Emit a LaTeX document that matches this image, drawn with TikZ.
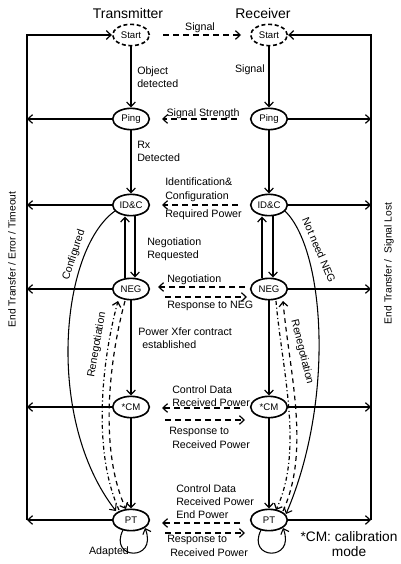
\documentclass[tikz,border=0pt]{standalone}
\usepackage{fontspec}
\setmainfont{Liberation Sans}
\usetikzlibrary{shapes.geometric,arrows.meta,calc}
\begin{document}
\begin{tikzpicture}[x=0.75pt,y=-0.75pt,
  st/.style={ellipse,draw,line width=1.2pt,minimum width=27.5pt,minimum height=16pt,inner sep=0pt,font=\fontsize{7.2}{8}\selectfont},
  ststart/.style={st,dash pattern=on 3pt off 2pt},
  conn/.style={line width=0.9pt,-{Straight Barb[length=3.5pt,width=6.5pt]}},
  msg/.style={conn,dash pattern=on 4.5pt off 3pt},
  renegd/.style={conn,dash pattern=on 3.5pt off 3pt},
  renegdd/.style={conn,dash pattern=on 3pt off 2pt on 0.8pt off 2pt},
  thin/.style={conn,line width=0.8pt},
  lbl/.style={font=\fontsize{8}{9.8}\selectfont,inner sep=0pt,align=left},
  ttl/.style={font=\fontsize{10.5}{12}\selectfont,inner sep=0pt},
  side/.style={font=\fontsize{7.7}{9}\selectfont,inner sep=0pt,rotate=90}]
\path[fill=white] (0,0) rectangle (400,564);
\useasboundingbox (0,0) rectangle (400,564);

% titles
\node[ttl] (tT) at (128,13) {Transmitter};
\node[ttl] (tR) at (263,13) {Receiver};

% transmitter states
\node[ststart] (ts) at (131,35) {Start};
\node[st] (tp) at (131,119) {Ping};
\node[st] (ti) at (131,205) {ID\&C};
\node[st] (tn) at (131,289) {NEG};
\node[st] (tc) at (131,407) {*CM};
\node[st] (tt) at (131,520) {PT};
% receiver states
\node[ststart] (rs) at (269,35) {Start};
\node[st] (rp) at (269,119) {Ping};
\node[st] (ri) at (269,205) {ID\&C};
\node[st] (rn) at (269,289) {NEG};
\node[st] (rc) at (269,407) {*CM};
\node[st] (rt) at (269,520) {PT};

% border lines
\coordinate (Ltop) at (27,35);
\coordinate (Lbot) at (27,520);
\coordinate (Rtop) at (371,35);
\coordinate (Rbot) at (371,520);
\draw[conn] (Lbot) -- (Ltop) -- (ts.west);
\draw[conn] (Rbot) -- (Rtop) -- (rs.east);
\foreach \n in {tp,ti,tn,tc,tt}{\draw[conn] (\n.west) -- (\n.west -| Ltop);}
\foreach \n in {rp,ri,rn,rc,rt}{\draw[conn] (\n.east) -- (\n.east -| Rtop);}

% vertical transitions
\draw[conn] (ts) -- (tp);
\draw[conn] (tp) -- (ti);
\draw[conn] ($(ti.south)+(4,0)$) -- ($(tn.north)+(4,0)$);
\draw[conn] ($(tn.north)+(-6,0)$) -- ($(ti.south)+(-6,0)$);
\draw[conn] (tn) -- (tc);
\draw[conn] (tc) -- (tt);
\draw[conn] (rs) -- (rp);
\draw[conn] (rp) -- (ri);
\draw[conn] ($(ri.south)+(4,0)$) -- ($(rn.north)+(4,0)$);
\draw[conn] ($(rn.north)+(-7,0)$) -- ($(ri.south)+(-7,0)$);
\draw[conn] (rn) -- (rc);
\draw[conn] (rc) -- (rt);

% messages
\draw[msg] ($(ts)+(32,0)$) -- ($(rs)+(-28,0)$);
\draw[msg] ($(rp)+(-32,0)$) -- ($(tp)+(31,0)$);
\draw[msg] ($(ri)+(-31,0)$) -- ($(ti)+(31,0)$);
\draw[msg] ($(rn)+(-24,-2)$) -- ($(tn)+(27,-2)$);
\draw[msg] ($(tn)+(34,8)$) -- ($(rn)+(-22,8)$);
\draw[msg] ($(rc)+(-29,1)$) -- ($(tc)+(31,1)$);
\draw[msg] ($(tc)+(34,13)$) -- ($(rc)+(-24,13)$);
\draw[msg] ($(rt)+(-29,3)$) -- ($(tt)+(31,3)$);
\draw[msg] ($(tt)+(34,13)$) -- ($(rt)+(-24,13)$);

% curves
\draw[thin] ($(ti)+(-16,6)$) .. controls (60,250) and (45,420) .. ($(tt)+(-15,-9)$);
\draw[thin] ($(ri)+(16,6)$) .. controls (325,250) and (335,400) .. ($(rt)+(17,-6)$);

% renegotiation
\draw[renegdd] ($(tt)+(-12,-10)$) .. controls (92,450) and (102,360) .. ($(tn)+(-13,12)$);
\draw[renegd] ($(tn)+(-6,12)$) .. controls (109,360) and (99,450) .. ($(tt)+(-5,-11)$);
\draw[renegdd] ($(rn)+(7,12)$) .. controls (282,370) and (304,450) .. ($(rt)+(7,-10)$);
\draw[renegd] ($(rt)+(14,-9)$) .. controls (311,450) and (289,370) .. ($(rn)+(14,12)$);

% self loops
\draw[thin] ($(tt)+(-8,10)$) .. controls (108,560) and (158,562) .. ($(tt)+(14,8)$);
\draw[thin] ($(rt)+(-8,10)$) .. controls (246,560) and (296,562) .. ($(rt)+(14,8)$);

% labels
\node[lbl] (l1) at (200,28) {Signal};
\node[lbl,anchor=west] (l2) at (137,77) {Object\\detected};
\node[lbl,anchor=east] (l3) at (265,70) {Signal};
\node[lbl] (l4) at (203,114) {Signal Strength};
\node[lbl,anchor=west] (l5) at (137,151.5) {Rx\\Detected};
\node[lbl,anchor=west] (l6) at (165,182) {Identification\&};
\node[lbl,anchor=west] (l7) at (165,197) {Configuration};
\node[lbl,anchor=west] (l8) at (165,215) {Required Power};
\node[lbl,anchor=west] (l9) at (147,249) {Negotiation\\Requested};
\node[lbl,anchor=west] (l10) at (167,280) {Negotiation};
\node[lbl,anchor=west] (l11) at (167,306) {Response to NEG};
\node[lbl,anchor=west] (l12) at (138,338.5) {Power Xfer contract\\\hspace{3pt}established};
\node[lbl,anchor=west] (l13) at (172,396) {Control Data\\Received Power};
\node[lbl,anchor=west] (l14) at (169,432) {Response to};
\node[lbl,anchor=west] (l15) at (172,445) {Received Power};
\node[lbl,anchor=west] (l16) at (176,501.5) {Control Data\\Received Power\\End Power};
\node[lbl,anchor=west] (l17) at (167,540) {Response to};
\node[lbl,anchor=west] (l18) at (170,553) {Received Power};
\node[lbl] (l19) at (109,552) {Adapted};
\node[lbl,rotate=72] (l20) at (74,255) {Configured};
\node[lbl,rotate=-67] (l21) at (319,250) {Not need NEG};
\node[lbl,rotate=80] (l22) at (97,345) {Renegotiation};
\node[lbl,rotate=-76] (l23) at (302,352) {Renegotiation};
\node[side] (s1) at (12,259.5) {End Transfer / Error / Timeout};
\node[side] (s2) at (389,263.5) {End Transfer /\ \ Signal Lost};
\node[font=\fontsize{10.3}{11.3}\selectfont,inner sep=0pt,align=center] (cm) at (349,544.5) {*CM: calibration\\mode};
\end{tikzpicture}
\end{document}
